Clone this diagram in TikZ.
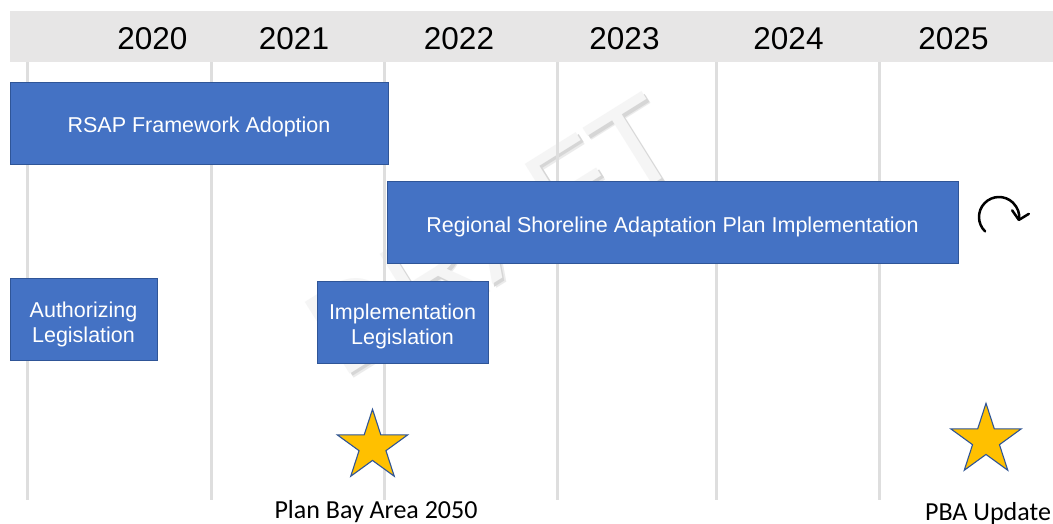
\documentclass[tikz,border=0pt]{standalone}
\usepackage{fontspec}
\setmainfont{Liberation Sans}
\newfontfamily\labelfont{Carlito}
\usetikzlibrary{shapes.geometric,arrows.meta}

\definecolor{barblue}{HTML}{4472C4}
\definecolor{baredge}{HTML}{2F5597}
\definecolor{bandgray}{HTML}{E7E6E6}
\definecolor{gridgray}{HTML}{DEDEDE}
\definecolor{stargold}{HTML}{FFC000}

\begin{document}
\begin{tikzpicture}[x=1pt, y=-1pt,
  bar/.style={draw=baredge, line width=0.9pt, fill=barblue, inner sep=0pt,
    anchor=north west, minimum height=82pt},
  bartext/.style={text=white, font=\fontsize{21.5}{25}\selectfont, align=center, inner sep=0pt},
  year/.style={font=\fontsize{31.5}{31.5}\selectfont, anchor=base, inner sep=0pt},
  gridline/.style={draw=gridgray, line width=3pt},
  milestone/.style={star, star points=5, star point ratio=2.618, minimum size=74pt,
    inner sep=0pt, draw=baredge, line width=1.1pt, fill=stargold},
  caption/.style={font=\labelfont\fontsize{26}{26}\selectfont, anchor=base, inner sep=0pt},
  watermark/.style={font=\fontsize{123}{123}\selectfont, rotate=32, inner sep=0pt},
]
\useasboundingbox (0,0) rectangle (1053,523);
\fill[white] (0,0) rectangle (1053,523);

% year header band
\fill[bandgray] (10,11) rectangle (1053,62);

% embossed watermark behind the schedule (soft shadow, then the pale face)
\node[watermark, text=black!8] (wmhalo) at (497,238.5) {DRAFT};
\node[watermark, text=black!16] (wmshadow) at (495.5,237) {DRAFT};
\node[watermark, text=black!4] (wm) at (493,234.5) {DRAFT};

% vertical year separators
\foreach \x [count=\i] in {27,211,384,557.5,716.5,879.5} {
  \coordinate (g\i top) at (\x,62);
  \coordinate (g\i bot) at (\x,500);
  \draw[gridline] (g\i top) -- (g\i bot);
}

% year labels
\foreach \x/\yr in {152.3/2020, 294/2021, 459/2022, 624.5/2023, 788.5/2024, 953.5/2025}
  \node[year] (y\yr) at (\x,49) {\yr};

% schedule bars
\node[bar, minimum width=378pt] (rsap) at (10,82) {};
\node[bar, minimum width=571pt] (rsapimpl) at (387,181) {};
\node[bar, minimum width=147pt] (authleg) at (10,278) {};
\node[bar, minimum width=171pt] (implleg) at (317,281) {};

\node[bartext, anchor=base] (rsap-t) at (199,132.5) {RSAP Framework Adoption};
\node[bartext, anchor=base] (rsapimpl-t) at (672.5,232) {Regional Shoreline Adaptation Plan Implementation};
\node[bartext] (authleg-t) at (83.5,324) {Authorizing\\Legislation};
\node[bartext] (implleg-t) at (402.5,326) {Implementation\\Legislation};

% ongoing-cycle symbol
\coordinate (loop) at (999,217);
\draw[line width=2.5pt, line cap=round,
  -{Straight Barb[length=8pt,width=17pt,line cap=round,line join=round]}]
  ([shift={(134:20)}]loop) arc[start angle=134, end angle=372, radius=20];

% milestones
\node[milestone] (pba2050) at (372.5,446.3) {};
\node[milestone] (pbaupd) at (986,440.3) {};
\node[caption] (pba2050-l) at (376,518.3) {Plan Bay Area 2050};
\node[caption] (pbaupd-l) at (988,520) {PBA Update};
\end{tikzpicture}
\end{document}
